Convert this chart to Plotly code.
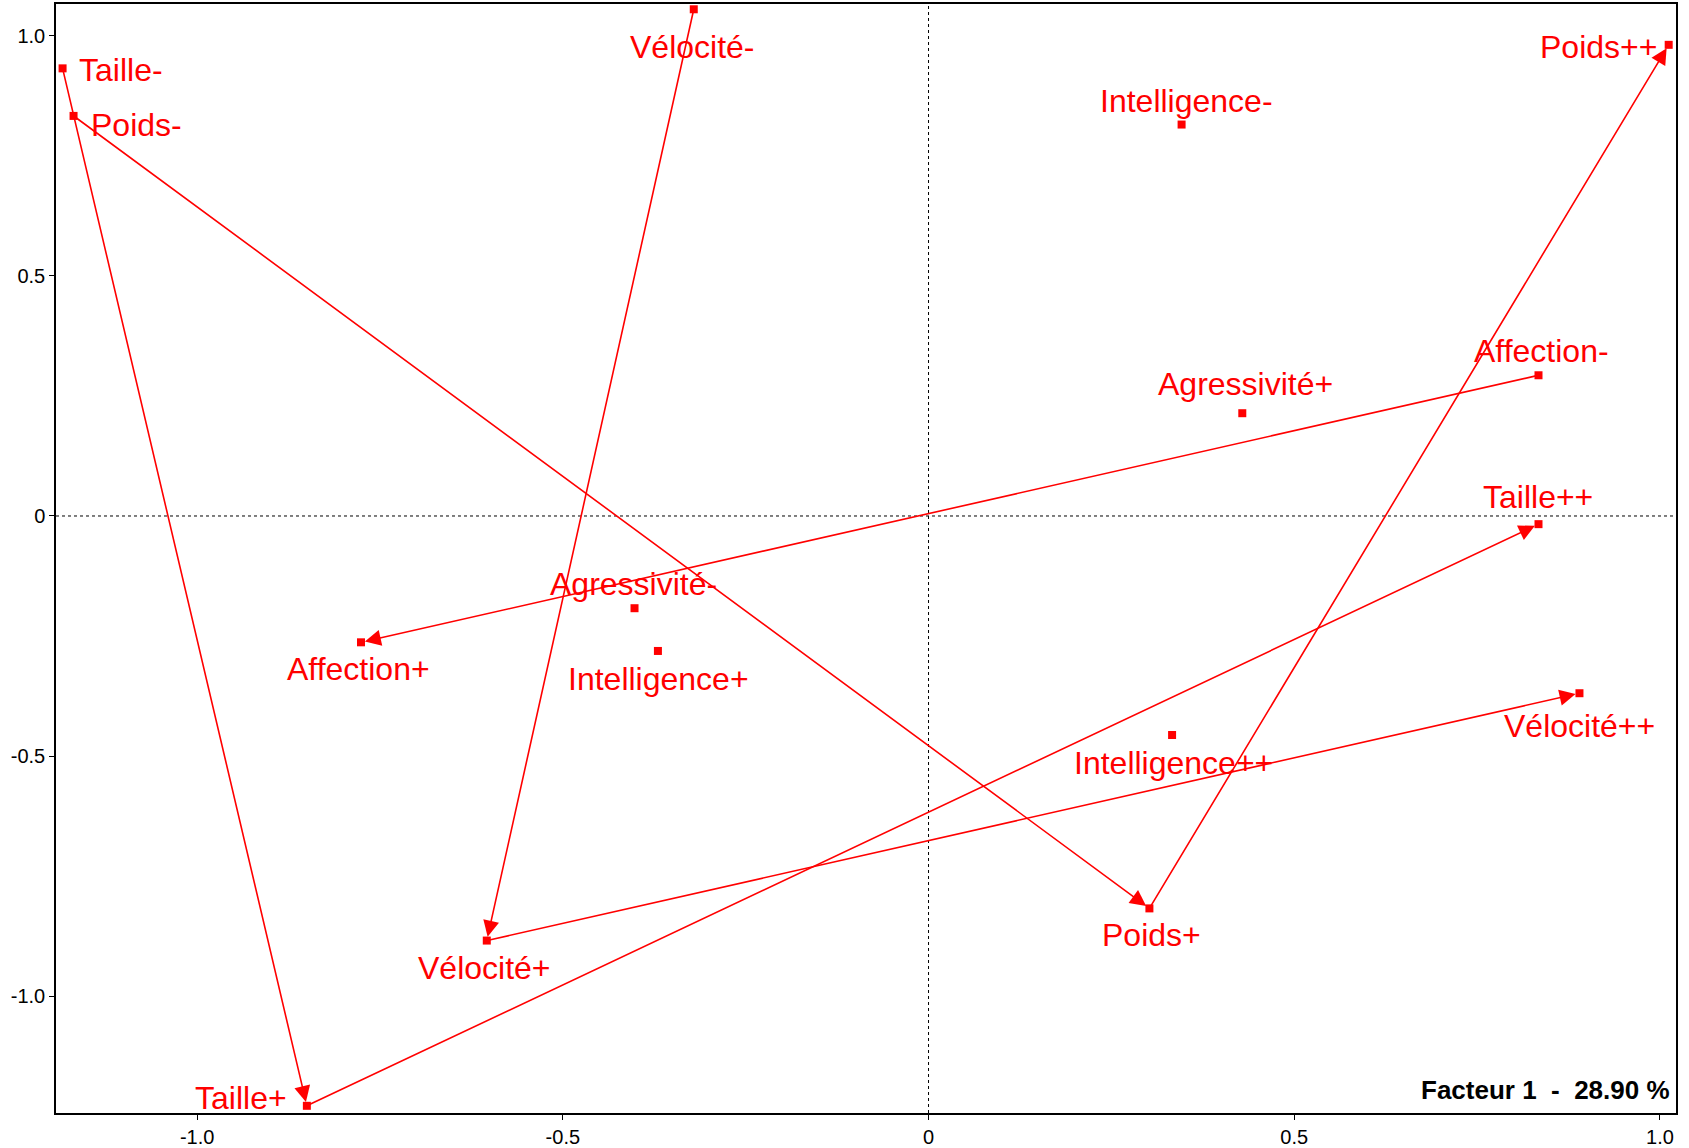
import plotly.graph_objects as go

# Modalities and their coordinates on factors 1 and 2
modalites = [
    "Taille-", "Taille+", "Taille++",
    "Poids-", "Poids+", "Poids++",
    "Vélocité-", "Vélocité+", "Vélocité++",
    "Intelligence-", "Intelligence+", "Intelligence++",
    "Affection-", "Affection+",
    "Agressivité-", "Agressivité+",
]
facteur1 = [
    -1.184, -0.850, 0.834,
    -1.169, 0.302, 1.012,
    -0.321, -0.604, 0.890,
    0.346, -0.370, 0.333,
    0.834, -0.776,
    -0.402, 0.429,
]
facteur2 = [
    0.932, -1.228, -0.017,
    0.833, -0.817, 0.981,
    1.055, -0.884, -0.369,
    0.815, -0.281, -0.456,
    0.293, -0.263,
    -0.192, 0.214,
]

# Ordered chains of modalities joined by arrows
chaines = [
    ["Taille-", "Taille+", "Taille++"],
    ["Poids-", "Poids+", "Poids++"],
    ["Vélocité-", "Vélocité+", "Vélocité++"],
    ["Affection-", "Affection+"],
]

axis_ticks = [-1.0, -0.5, 0.0, 0.5, 1.0]
axis_ticktext = ["-1.0", "-0.5", "0", "0.5", "1.0"]
titre_axe = "Facteur 1\u00a0\u00a0-\u00a0\u00a028.90\u00a0%"

# Label placement: (anchor, x offset px, y offset px) relative to each point
placement = {
    "Taille-": ("left", 14, -2),
    "Taille+": ("right", -18, 8),
    "Taille++": ("center", -1, 27),
    "Poids-": ("left", 15, -9),
    "Poids+": ("center", 2, -27),
    "Poids++": ("right", -10, -2),
    "Vélocité-": ("center", -1, -38),
    "Vélocité+": ("center", -2, -27),
    "Vélocité++": ("center", 0, -33),
    "Intelligence-": ("center", 5, 24),
    "Intelligence+": ("center", 1, -28),
    "Intelligence++": ("center", 1, -28),
    "Affection-": ("center", 3, 24),
    "Affection+": ("center", -2, -27),
    "Agressivité-": ("center", -1, 24),
    "Agressivité+": ("center", 3, 29),
}

ROUGE = "#ff0000"
POLICE = "Liberation Sans, Arial, Helvetica, sans-serif"

coord = {m: (x, y) for m, x, y in zip(modalites, facteur1, facteur2)}

fig = go.Figure()

fig.add_trace(go.Scatter(
    x=facteur1, y=facteur2,
    mode="markers",
    marker=dict(symbol="square", size=8, color=ROUGE),
    hoverinfo="skip",
    showlegend=False,
    cliponaxis=False,
))

annotations = []

# Arrows between successive modalities of the same variable
for chaine in chaines:
    for a, b in zip(chaine[:-1], chaine[1:]):
        xa, ya = coord[a]
        xb, yb = coord[b]
        annotations.append(dict(
            x=xb, y=yb, ax=xa, ay=ya,
            xref="x", yref="y", axref="x", ayref="y",
            text="", showarrow=True,
            arrowhead=2, arrowsize=2.0, arrowwidth=1.6,
            arrowcolor=ROUGE, standoff=4,
        ))

# Modality labels
for m, x, y in zip(modalites, facteur1, facteur2):
    ancre, dx, dy = placement[m]
    annotations.append(dict(
        x=x, y=y, xref="x", yref="y",
        text=m, showarrow=False,
        xanchor=ancre, yanchor="middle",
        xshift=dx, yshift=dy,
        font=dict(family=POLICE, size=32, color=ROUGE),
    ))

annotations.append(dict(
    x=0.9975, y=0.021, xref="paper", yref="paper",
    xanchor="right", yanchor="middle",
    text="<b>" + titre_axe + "</b>", showarrow=False,
    font=dict(family=POLICE, size=26, color="black"),
))

shapes = [
    dict(type="line", xref="x", yref="paper", x0=0, x1=0, y0=0, y1=1,
         line=dict(color="black", width=1, dash="dot"), layer="below"),
    dict(type="line", xref="paper", yref="y", x0=0, x1=1, y0=0, y1=0,
         line=dict(color="black", width=1, dash="dot"), layer="below"),
]

axe_commun = dict(
    tickvals=axis_ticks, ticktext=axis_ticktext,
    showgrid=False, zeroline=False, automargin=False,
    showline=True, mirror=True, linecolor="black", linewidth=1.5,
    ticks="outside", tickwidth=1, tickcolor="black",
    tickfont=dict(family=POLICE, size=20, color="black"),
)

fig.update_layout(
    width=1689, height=1148,
    margin=dict(l=56, r=13, t=4, b=35),
    paper_bgcolor="white", plot_bgcolor="white",
    xaxis=dict(range=[-1.193, 1.022], ticklen=5, **axe_commun),
    yaxis=dict(range=[-1.243, 1.066], ticklen=5, **axe_commun),
    annotations=annotations,
    shapes=shapes,
)

fig.write_html("out.html")
